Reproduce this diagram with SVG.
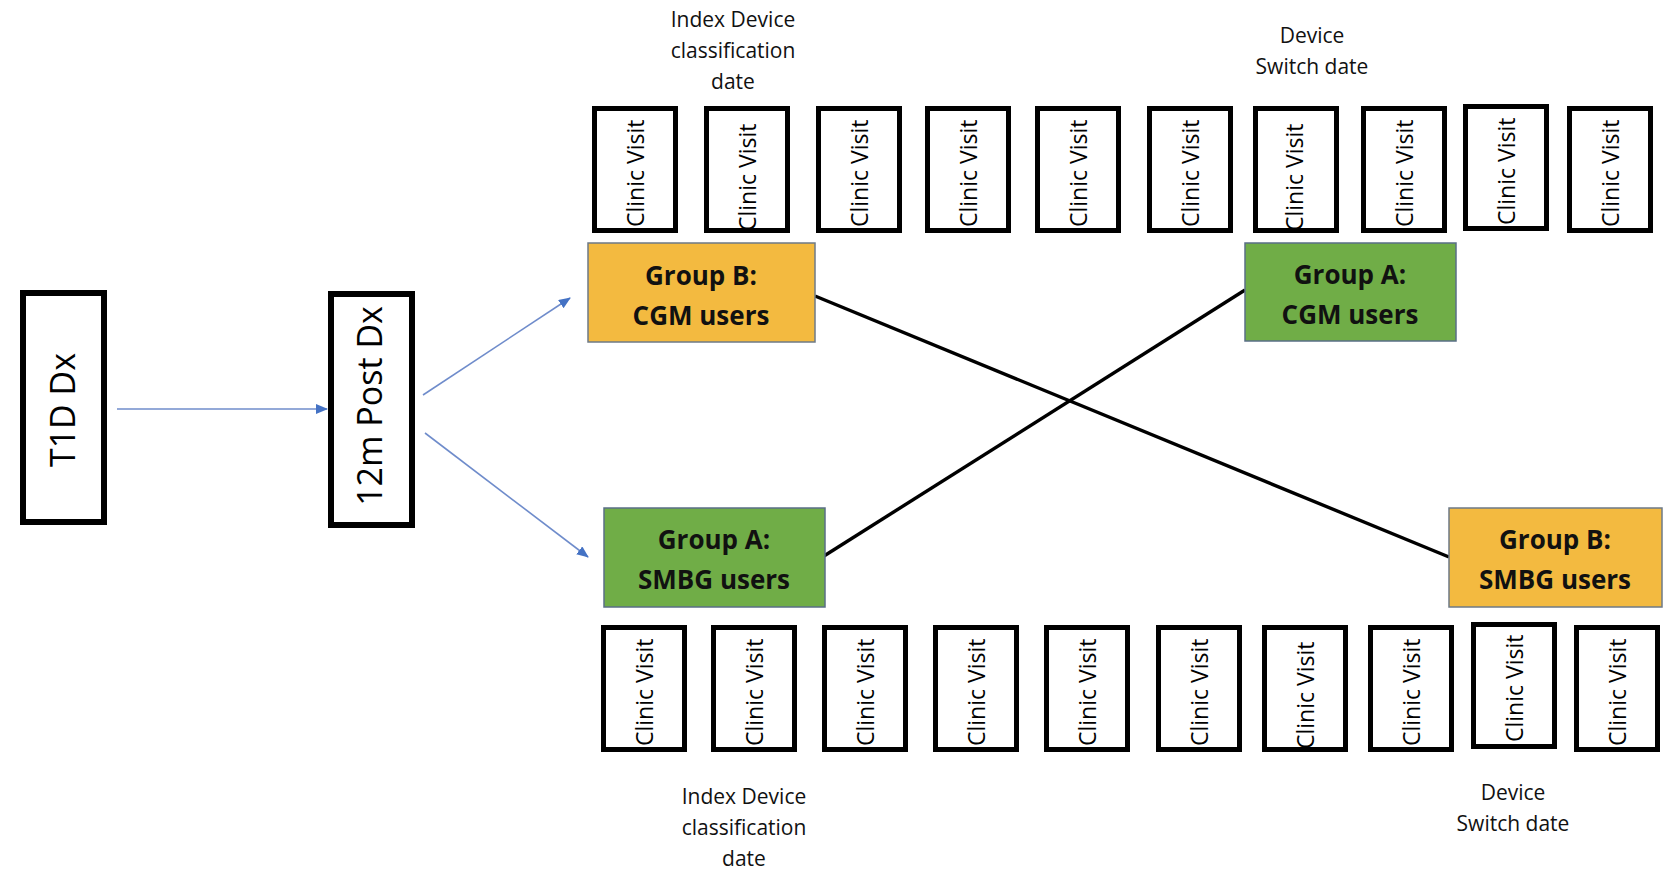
<svg xmlns="http://www.w3.org/2000/svg" width="1670" height="870" viewBox="0 0 1670 870">
  <style>
    .frame { fill: #ffffff; stroke: #000000; stroke-width: 6; }
    .visit { fill: #ffffff; stroke: #000000; stroke-width: 5; }
    .gold { fill: #F3BA40; stroke: #6E7A86; stroke-width: 1.5; }
    .green { fill: #70AD47; stroke: #5A6F86; stroke-width: 1.5; }
    .big { font-family: "Open Sans", "Liberation Sans", sans-serif; font-size: 34px; fill: #000; }
    .cv { font-family: "Open Sans", "Liberation Sans", sans-serif; font-size: 23px; fill: #000; }
    .grp { font-family: "Open Sans", "Liberation Sans", sans-serif; font-size: 26px; font-weight: bold; fill: #111; text-anchor: middle; }
    .note { font-family: "Open Sans", "Liberation Sans", sans-serif; font-size: 21px; fill: #111; text-anchor: middle; }
    .flow { stroke: #6F8CCB; stroke-width: 1.6; fill: none; }
    .cross { stroke: #000000; stroke-width: 3.4; fill: none; }
  </style>
  <defs>
    <marker id="tri" viewBox="0 0 12 10" refX="11" refY="5" markerWidth="12" markerHeight="10" markerUnits="userSpaceOnUse" orient="auto">
      <path d="M0,0 L12,5 L0,10 Z" fill="#4472C4"/>
    </marker>
  </defs>

  <rect width="1670" height="870" fill="#ffffff"/>

  <!-- connectors -->
  <g id="connectors">
    <line class="flow" x1="117" y1="409" x2="327" y2="409" marker-end="url(#tri)"/>
    <line class="flow" x1="423" y1="395" x2="570" y2="298" marker-end="url(#tri)"/>
    <line class="flow" x1="425" y1="433" x2="588" y2="557" marker-end="url(#tri)"/>
    <line class="cross" x1="815" y1="296" x2="1449" y2="557"/>
    <line class="cross" x1="824" y1="556" x2="1245" y2="290"/>
  </g>

  <!-- diagnosis nodes -->
  <g id="t1d-dx">
    <rect class="frame" x="23" y="293" width="81" height="229"/>
    <text class="big" text-anchor="middle" transform="translate(75,410) rotate(-90)">T1D Dx</text>
  </g>
  <g id="post-dx-12m">
    <rect class="frame" x="331" y="294" width="81" height="231"/>
    <text class="big" font-size="32" text-anchor="middle" transform="translate(382,406) rotate(-90)">12m Post Dx</text>
  </g>

  <!-- group nodes -->
  <g id="group-b-cgm">
    <rect class="gold" x="588" y="243" width="227" height="99"/>
    <text class="grp" x="701" y="285">Group B:</text>
    <text class="grp" x="701" y="325">CGM users</text>
  </g>
  <g id="group-a-cgm">
    <rect class="green" x="1245" y="243" width="211" height="98"/>
    <text class="grp" x="1350" y="284">Group A:</text>
    <text class="grp" x="1350" y="324">CGM users</text>
  </g>
  <g id="group-a-smbg">
    <rect class="green" x="604" y="508" width="221" height="99"/>
    <text class="grp" x="714" y="549">Group A:</text>
    <text class="grp" x="714" y="589">SMBG users</text>
  </g>
  <g id="group-b-smbg">
    <rect class="gold" x="1449" y="508" width="213" height="99"/>
    <text class="grp" x="1555" y="549">Group B:</text>
    <text class="grp" x="1555" y="589">SMBG users</text>
  </g>

  <!-- upper row of clinic visits -->
  <g id="visit-top-1"><rect class="visit" x="594.5" y="108.5" width="81" height="122"/><text class="cv" transform="translate(644,227) rotate(-90)">Clinic Visit</text></g>
  <g id="visit-top-2"><rect class="visit" x="706.5" y="108.5" width="81" height="122"/><text class="cv" transform="translate(756,231) rotate(-90)">Clinic Visit</text></g>
  <g id="visit-top-3"><rect class="visit" x="818.5" y="108.5" width="81" height="122"/><text class="cv" transform="translate(868,227) rotate(-90)">Clinic Visit</text></g>
  <g id="visit-top-4"><rect class="visit" x="927.5" y="108.5" width="81" height="122"/><text class="cv" transform="translate(977,227) rotate(-90)">Clinic Visit</text></g>
  <g id="visit-top-5"><rect class="visit" x="1037.5" y="108.5" width="81" height="122"/><text class="cv" transform="translate(1087,227) rotate(-90)">Clinic Visit</text></g>
  <g id="visit-top-6"><rect class="visit" x="1149.5" y="108.5" width="81" height="122"/><text class="cv" transform="translate(1199,227) rotate(-90)">Clinic Visit</text></g>
  <g id="visit-top-7"><rect class="visit" x="1255.5" y="108.5" width="81" height="122"/><text class="cv" transform="translate(1303,231) rotate(-90)">Clinic Visit</text></g>
  <g id="visit-top-8"><rect class="visit" x="1363.5" y="108.5" width="81" height="122"/><text class="cv" transform="translate(1413,227) rotate(-90)">Clinic Visit</text></g>
  <g id="visit-top-9"><rect class="visit" x="1465.5" y="106.5" width="81" height="122"/><text class="cv" transform="translate(1515,225) rotate(-90)">Clinic Visit</text></g>
  <g id="visit-top-10"><rect class="visit" x="1569.5" y="108.5" width="81" height="122"/><text class="cv" transform="translate(1619,227) rotate(-90)">Clinic Visit</text></g>

  <!-- lower row of clinic visits -->
  <g id="visit-bottom-1"><rect class="visit" x="603.5" y="627.5" width="81" height="122"/><text class="cv" transform="translate(653,746) rotate(-90)">Clinic Visit</text></g>
  <g id="visit-bottom-2"><rect class="visit" x="713.5" y="627.5" width="81" height="122"/><text class="cv" transform="translate(763,746) rotate(-90)">Clinic Visit</text></g>
  <g id="visit-bottom-3"><rect class="visit" x="824.5" y="627.5" width="81" height="122"/><text class="cv" transform="translate(874,746) rotate(-90)">Clinic Visit</text></g>
  <g id="visit-bottom-4"><rect class="visit" x="935.5" y="627.5" width="81" height="122"/><text class="cv" transform="translate(985,746) rotate(-90)">Clinic Visit</text></g>
  <g id="visit-bottom-5"><rect class="visit" x="1046.5" y="627.5" width="81" height="122"/><text class="cv" transform="translate(1096,746) rotate(-90)">Clinic Visit</text></g>
  <g id="visit-bottom-6"><rect class="visit" x="1158.5" y="627.5" width="81" height="122"/><text class="cv" transform="translate(1208,746) rotate(-90)">Clinic Visit</text></g>
  <g id="visit-bottom-7"><rect class="visit" x="1264.5" y="627.5" width="81" height="122"/><text class="cv" transform="translate(1314,749) rotate(-90)">Clinic Visit</text></g>
  <g id="visit-bottom-8"><rect class="visit" x="1370.5" y="627.5" width="81" height="122"/><text class="cv" transform="translate(1420,746) rotate(-90)">Clinic Visit</text></g>
  <g id="visit-bottom-9"><rect class="visit" x="1473.5" y="624.5" width="81" height="122"/><text class="cv" transform="translate(1523,742) rotate(-90)">Clinic Visit</text></g>
  <g id="visit-bottom-10"><rect class="visit" x="1576.5" y="627.5" width="81" height="122"/><text class="cv" transform="translate(1626,746) rotate(-90)">Clinic Visit</text></g>

  <!-- date annotations -->
  <g id="label-index-top">
    <text class="note" x="733" y="27">Index Device</text>
    <text class="note" x="733" y="58">classification</text>
    <text class="note" x="733" y="89">date</text>
  </g>
  <g id="label-switch-top">
    <text class="note" x="1312" y="43">Device</text>
    <text class="note" x="1312" y="74">Switch date</text>
  </g>
  <g id="label-index-bottom">
    <text class="note" x="744" y="804">Index Device</text>
    <text class="note" x="744" y="835">classification</text>
    <text class="note" x="744" y="866">date</text>
  </g>
  <g id="label-switch-bottom">
    <text class="note" x="1513" y="800">Device</text>
    <text class="note" x="1513" y="831">Switch date</text>
  </g>
</svg>
